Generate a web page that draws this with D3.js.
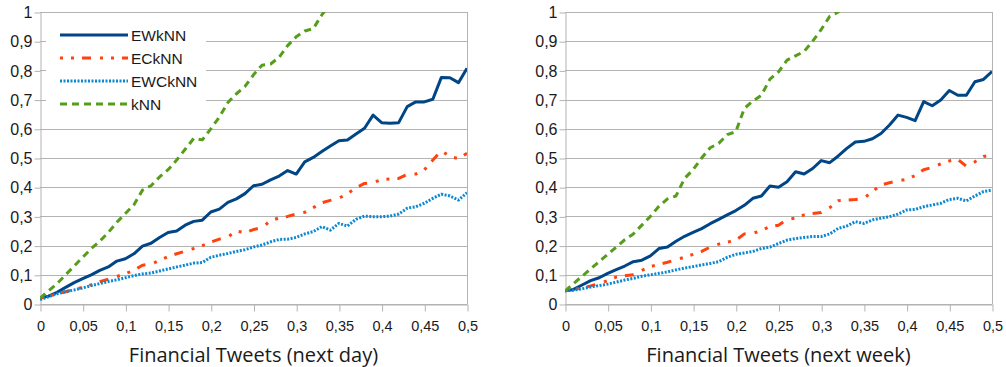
<!DOCTYPE html>
<html><head><meta charset="utf-8">
<script src="https://cdn.jsdelivr.net/npm/d3@7"></script>
<style>body{margin:0;background:#fff}</style>
</head><body><svg id="c" width="1006" height="367"></svg>
<script>
const xSteps = [0,0.01,0.02,0.03,0.04,0.05,0.06,0.07,0.08,0.09,0.1,0.11,0.12,0.13,0.14,0.15,0.16,0.17,0.18,0.19,0.2,0.21,0.22,0.23,0.24,0.25,0.26,0.27,0.28,0.29,0.3,0.31,0.32,0.33,0.34,0.35,0.36,0.37,0.38,0.39,0.4,0.41,0.42,0.43,0.44,0.45,0.46,0.47,0.48,0.49,0.5];
const seriesNames = ["EWkNN","ECkNN","EWCkNN","kNN"];

const dayEWkNN = [0.02,0.027,0.04,0.057,0.073,0.087,0.1,0.115,0.127,0.147,0.155,0.172,0.198,0.208,0.228,0.245,0.25,0.27,0.283,0.287,0.315,0.325,0.348,0.36,0.378,0.405,0.41,0.425,0.438,0.457,0.445,0.487,0.502,0.522,0.541,0.559,0.562,0.582,0.602,0.647,0.621,0.619,0.621,0.676,0.692,0.692,0.701,0.776,0.775,0.758,0.807];
const dayECkNN = [0.02,0.027,0.034,0.042,0.05,0.057,0.066,0.076,0.085,0.094,0.104,0.115,0.133,0.136,0.15,0.162,0.172,0.181,0.19,0.2,0.212,0.222,0.23,0.25,0.244,0.255,0.262,0.285,0.295,0.3,0.308,0.314,0.33,0.347,0.355,0.362,0.378,0.398,0.413,0.415,0.427,0.428,0.43,0.444,0.445,0.459,0.493,0.525,0.505,0.498,0.516];
const dayEWCkNN = [0.015,0.025,0.035,0.042,0.048,0.055,0.063,0.07,0.077,0.083,0.09,0.097,0.103,0.106,0.113,0.12,0.127,0.133,0.14,0.142,0.16,0.167,0.173,0.18,0.186,0.195,0.202,0.213,0.221,0.222,0.228,0.24,0.248,0.265,0.253,0.276,0.267,0.29,0.301,0.299,0.299,0.301,0.308,0.328,0.333,0.345,0.362,0.376,0.37,0.356,0.381];
const daykNN = [0.02,0.045,0.07,0.1,0.13,0.16,0.19,0.215,0.245,0.28,0.31,0.34,0.39,0.405,0.435,0.46,0.493,0.53,0.567,0.562,0.6,0.64,0.69,0.72,0.745,0.785,0.818,0.822,0.845,0.885,0.915,0.935,0.943,0.99,1.03];

const weekEWkNN = [0.045,0.05,0.065,0.08,0.09,0.105,0.118,0.13,0.145,0.15,0.165,0.19,0.195,0.215,0.232,0.245,0.258,0.275,0.29,0.305,0.32,0.338,0.362,0.37,0.404,0.4,0.419,0.453,0.445,0.464,0.491,0.484,0.507,0.533,0.555,0.557,0.566,0.584,0.613,0.647,0.639,0.628,0.693,0.679,0.699,0.731,0.715,0.715,0.761,0.769,0.796];
const weekECkNN = [0.045,0.05,0.055,0.062,0.07,0.08,0.092,0.097,0.1,0.115,0.128,0.136,0.143,0.152,0.16,0.17,0.18,0.195,0.205,0.212,0.218,0.24,0.242,0.252,0.265,0.27,0.29,0.294,0.305,0.31,0.313,0.33,0.354,0.356,0.358,0.362,0.385,0.408,0.415,0.422,0.427,0.44,0.46,0.468,0.48,0.49,0.495,0.472,0.487,0.505,0.51];
const weekEWCkNN = [0.045,0.047,0.052,0.058,0.063,0.068,0.075,0.082,0.088,0.095,0.1,0.105,0.11,0.117,0.123,0.128,0.134,0.139,0.145,0.16,0.17,0.175,0.18,0.19,0.195,0.207,0.219,0.224,0.228,0.231,0.231,0.24,0.259,0.267,0.282,0.276,0.288,0.294,0.299,0.308,0.322,0.324,0.333,0.339,0.345,0.358,0.362,0.353,0.37,0.385,0.39];
const weekkNN = [0.045,0.07,0.095,0.12,0.145,0.17,0.195,0.22,0.24,0.27,0.3,0.335,0.36,0.37,0.43,0.46,0.5,0.535,0.55,0.58,0.59,0.67,0.695,0.715,0.77,0.795,0.835,0.85,0.865,0.9,0.94,0.985,1.0,1.03];

const xTickValues = [0,0.05,0.1,0.15,0.2,0.25,0.3,0.35,0.4,0.45,0.5];
const xTickLabels = ["0","0,05","0,1","0,15","0,2","0,25","0,3","0,35","0,4","0,45","0,5"];
const yTickValues = [0,0.1,0.2,0.3,0.4,0.5,0.6,0.7,0.8,0.9,1];
const yTickLabels = ["0","0,1","0,2","0,3","0,4","0,5","0,6","0,7","0,8","0,9","1"];
const chartTitles = ["Financial Tweets (next day)","Financial Tweets (next week)"];

const styles = {
  EWkNN:  {color:"#004586", dash:null},
  ECkNN:  {color:"#ff420e", dash:"3,8,3,8,9,9"},
  EWCkNN: {color:"#0a88d4", dash:"2,1.5"},
  kNN:    {color:"#579d1c", dash:"7,5"}
};
const gridColor = "#b3b3b3";
const tickFont = "'Liberation Sans', Arial, sans-serif";
const svg = d3.select("#c");
const TOP = 12, BOTTOM = 304;

function drawChart(idx, left, right, data, title, legend) {
  const g = svg.append("g");
  const x = d3.scaleLinear().domain([0,0.5]).range([left,right]);
  const y = d3.scaleLinear().domain([0,1]).range([BOTTOM,TOP]);

  g.append("g").selectAll("line").data(yTickValues).join("line")
    .attr("x1", left).attr("x2", right)
    .attr("y1", d => Math.round(y(d))+0.5).attr("y2", d => Math.round(y(d))+0.5)
    .attr("stroke", gridColor).attr("stroke-width", 1);
  g.append("line").attr("x1", right+0.5).attr("x2", right+0.5).attr("y1", TOP).attr("y2", BOTTOM)
    .attr("stroke", gridColor);

  const ya = g.append("g").attr("transform", `translate(${left+0.5},0.5)`)
    .call(d3.axisLeft(y).tickValues(yTickValues).tickFormat((d,i)=>yTickLabels[i]).tickSize(6).tickSizeOuter(0).tickPadding(2));
  const xa = g.append("g").attr("transform", `translate(0.5,${BOTTOM+0.5})`)
    .call(d3.axisBottom(x).tickValues(xTickValues).tickFormat((d,i)=>xTickLabels[i]).tickSize(7).tickSizeOuter(0).tickPadding(9));
  [ya, xa].forEach(a => {
    a.select(".domain").attr("stroke", gridColor);
    a.selectAll(".tick line").attr("stroke", gridColor);
    a.selectAll("text").attr("font-family", tickFont).attr("font-size", 14.5).attr("fill", "#1a1a1a");
  });
  ya.selectAll("text").attr("font-size", 16);

  const clipId = "clip" + idx;
  svg.append("clipPath").attr("id", clipId).append("rect")
    .attr("x", left).attr("y", TOP).attr("width", right-left).attr("height", BOTTOM-TOP+4);

  const line = d3.line().x((d,i)=>x(xSteps[i])).y(d=>y(d));
  const lg = g.append("g").attr("clip-path", `url(#${clipId})`);
  seriesNames.forEach((name, k) => {
    const st = styles[name];
    lg.append("path").datum(data[k]).attr("d", line)
      .attr("fill","none").attr("stroke", st.color).attr("stroke-width", 3)
      .attr("stroke-linejoin","round")
      .attr("stroke-dasharray", st.dash);
  });

  g.append("text").attr("x", (left+right)/2).attr("y", 362)
    .attr("text-anchor","middle").attr("font-family","'Open Sans', sans-serif")
    .attr("font-size", 20).attr("fill","#1a1a1a").text(title);

  if (legend) {
    const lgd = g.append("g");
    lgd.append("rect").attr("x", 46).attr("y", 20).attr("width", 160).attr("height", 95).attr("fill","#fff");
    seriesNames.forEach((name, k) => {
      const st = styles[name];
      const cy = 35 + k*23;
      lgd.append("line").attr("x1", 60).attr("x2", 128).attr("y1", cy).attr("y2", cy)
        .attr("stroke", st.color).attr("stroke-width", 3).attr("stroke-dasharray", st.dash);
      lgd.append("text").attr("x", 131).attr("y", cy).attr("dy","0.36em")
        .attr("font-family", tickFont).attr("font-size", 15.5).attr("fill","#1a1a1a").text(name);
    });
  }
}

drawChart(0, 40, 467, [dayEWkNN, dayECkNN, dayEWCkNN, daykNN], chartTitles[0], true);
drawChart(1, 565, 992, [weekEWkNN, weekECkNN, weekEWCkNN, weekkNN], chartTitles[1], false);
</script>
</body></html>
